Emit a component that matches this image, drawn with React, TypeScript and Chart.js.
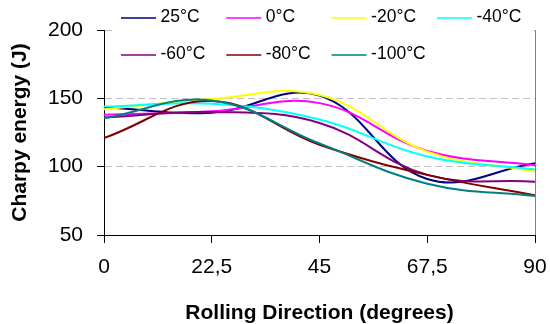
import React, { useEffect, useRef } from 'react';
import { Chart, registerables } from 'chart.js';

Chart.register(...registerables);

const FONT = '"Liberation Sans", Arial, sans-serif';

// Rolling direction angles (degrees)
const angles = [0, 22.5, 45, 67.5, 90];

// Series labels and colours
const seriesLabels = ['25°C', '0°C', '-20°C', '-40°C', '-60°C', '-80°C', '-100°C'];
const seriesColors = ['#000080', '#FF00FF', '#FFFF00', '#00FFFF', '#800080', '#800000', '#008080'];

// Charpy energy (J) per angle
const t25 = [143.5, 139.5, 152, 91, 102.5];
const t0 = [138, 140.5, 146.5, 111.5, 101];
const tm20 = [142, 149.5, 152.5, 111, 96.5];
const tm40 = [144, 146, 134.5, 107.5, 98];
const tm60 = [136, 140, 132, 94, 89];
const tm80 = [121, 148, 116, 94, 79];
const tm100 = [135.5, 148.5, 117, 87.5, 78.5];

const seriesValues = [t25, t0, tm20, tm40, tm60, tm80, tm100];

// Axis ticks
const xTicks = [0, 22.5, 45, 67.5, 90];
const yTicks = [50, 100, 150, 200];
const yGridValues = [100, 150, 200];

const gridLegend = {
  id: 'gridLegend',
  afterDraw(chart: any) {
    const ctx = chart.ctx;
    ctx.save();
    ctx.fillStyle = '#ffffff';
    ctx.fillRect(113, 0, 418, 68);
    ctx.font = `17.5px ${FONT}`;
    ctx.textBaseline = 'middle';
    ctx.textAlign = 'left';
    chart.data.datasets.forEach((ds: any, i: number) => {
      const col = i % 4;
      const row = Math.floor(i / 4);
      const x = 121 + col * 105.3;
      const y = 18 + row * 37;
      ctx.strokeStyle = ds.borderColor;
      ctx.lineWidth = 1.5;
      ctx.beginPath();
      ctx.moveTo(x, y);
      ctx.lineTo(x + 35, y);
      ctx.stroke();
      ctx.fillStyle = '#000';
      ctx.fillText(ds.label, x + 39.5, y - 0.5);
    });
    ctx.restore();
  },
};

export default function App() {
  const ref = useRef<HTMLCanvasElement>(null);

  useEffect(() => {
    const datasets = seriesLabels.map((label, i) => ({
      label,
      data: angles.map((a, j) => ({ x: a, y: seriesValues[i][j] })),
      borderColor: seriesColors[i],
      backgroundColor: seriesColors[i],
      borderWidth: 2,
      pointRadius: 0,
      pointHoverRadius: 0,
      tension: 0.4,
      fill: false,
      order: seriesLabels.length - i,
    }));

    const chart = new Chart(ref.current!, {
      type: 'line',
      data: { datasets },
      options: {
        animation: false,
        responsive: true,
        maintainAspectRatio: false,
        layout: { padding: { top: 30, right: 15, bottom: 0, left: 0 } },
        plugins: {
          legend: { display: false },
          tooltip: { enabled: false },
        },
        scales: {
          x: {
            type: 'linear',
            min: 0,
            max: 90,
            afterBuildTicks: (s: any) => {
              s.ticks = xTicks.map((v) => ({ value: v }));
            },
            ticks: {
              color: '#000',
              font: { size: 21, family: FONT },
              padding: 12,
              maxRotation: 0,
              autoSkip: false,
              callback: (v: any) => String(v).replace('.', ','),
            },
            grid: {
              color: (c: any) => (c.tick && c.tick.value === 90 ? '#808080' : 'rgba(0,0,0,0)'),
              tickColor: '#000',
              tickLength: 8,
              lineWidth: 1,
              drawOnChartArea: true,
            },
            border: { color: '#000', width: 1 },
            title: {
              display: true,
              text: 'Rolling Direction (degrees)',
              color: '#000',
              font: { size: 21, weight: 'bold', family: FONT },
              padding: { top: 0, bottom: -2 },
            },
            afterFit: (s: any) => {
              s.height = 89;
              s.paddingRight = 0;
              s.paddingLeft = 0;
            },
          },
          y: {
            type: 'linear',
            min: 50,
            max: 200,
            afterBuildTicks: (s: any) => {
              s.ticks = yTicks.map((v) => ({ value: v }));
            },
            ticks: {
              color: '#000',
              font: { size: 21, family: FONT },
              padding: 14,
            },
            grid: {
              color: (c: any) => (c.tick && yGridValues.includes(c.tick.value) ? '#c0c0c0' : 'rgba(0,0,0,0)'),
              tickColor: '#000',
              tickLength: 7,
              lineWidth: 1,
            },
            border: { color: '#000', width: 1, dash: [7, 4] },
            title: {
              display: true,
              text: 'Charpy energy (J)',
              color: '#000',
              font: { size: 21, weight: 'bold', family: FONT },
              padding: { top: 8, bottom: 0 },
            },
            afterFit: (s: any) => {
              s.width = 104;
              s.paddingTop = 0;
              s.paddingBottom = 0;
            },
          },
        },
      },
      plugins: [gridLegend],
    });

    return () => chart.destroy();
  }, []);

  return (
    <div style={{ position: 'fixed', left: 0, top: 0, width: 550, height: 324, background: '#fff' }}>
      <canvas ref={ref} style={{ display: 'block' }} />
    </div>
  );
}
